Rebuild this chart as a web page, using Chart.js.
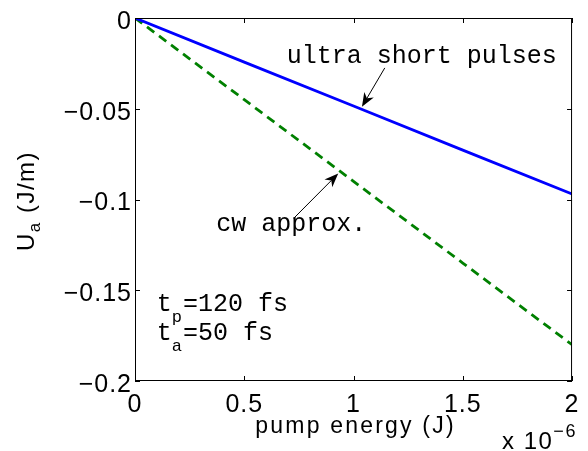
<!DOCTYPE html>
<html>
<head>
<meta charset="utf-8">
<script src="https://cdn.jsdelivr.net/npm/chart.js@4"></script>
<style>
  html, body { margin: 0; padding: 0; background: #fff; }
  canvas { display: block; }
</style>
</head>
<body>
<canvas id="grafica" width="588" height="451"></canvas>
<script>
// pump energy in units of 1e-6 J
const energias = [0, 0.5, 1, 1.5, 2];
const pulsosCortos = [0, -0.0243, -0.0485, -0.0728, -0.097];
const aproxCw = [0, -0.045, -0.09, -0.135, -0.18];
const ticksX = [0, 0.5, 1, 1.5, 2];
const ticksY = [0, -0.05, -0.1, -0.15, -0.2];

const SANS = '"Liberation Sans", Arial, sans-serif';
const MONO = '"Liberation Mono", "Courier New", monospace';

const menos = v => (v < 0 ? '\u2212' + String(-v) : String(v));

// annotation anchors in data units
const notas = {
    pulsos: { x: 0.694, y: -0.0247, cola: [1.143, -0.0275], punta: [1.0385, -0.0489] },
    cw: { x: 0.372, y: -0.1176, cola: [0.726, -0.1104], punta: [0.930, -0.0857] },
    tiempos: { x: 0.1, y1: -0.1615, y2: -0.1775 }
};

function flecha(ctx, x1, y1, x2, y2) {
    const ang = Math.atan2(y2 - y1, x2 - x1);
    const largo = 14, ancho = 5.5;
    const c = Math.cos(ang), s = Math.sin(ang);
    ctx.beginPath();
    ctx.moveTo(x1, y1);
    ctx.lineTo(x2 - c * largo * 0.7, y2 - s * largo * 0.7);
    ctx.strokeStyle = '#000';
    ctx.lineWidth = 1;
    ctx.stroke();
    ctx.beginPath();
    ctx.moveTo(x2, y2);
    ctx.lineTo(x2 - c * largo + s * ancho, y2 - s * largo - c * ancho);
    ctx.lineTo(x2 - c * largo * 0.7, y2 - s * largo * 0.7);
    ctx.lineTo(x2 - c * largo - s * ancho, y2 - s * largo + c * ancho);
    ctx.closePath();
    ctx.fillStyle = '#000';
    ctx.fill();
}

const marco = {
    id: 'marco',
    beforeDraw(chart) {
        chart.ctx.letterSpacing = '1px';
    },
    afterDraw(chart) {
        const { ctx, chartArea: a, scales: { x, y } } = chart;
        ctx.save();
        // box
        ctx.strokeStyle = '#000';
        ctx.lineWidth = 1;
        ctx.strokeRect(a.left + 0.5, a.top + 0.5, a.right - a.left - 1, a.bottom - a.top - 1);
        // inward ticks on all sides
        ctx.beginPath();
        ticksX.forEach(v => {
            const px = Math.round(x.getPixelForValue(v)) + 0.5;
            ctx.moveTo(px, a.bottom); ctx.lineTo(px, a.bottom - 5);
            ctx.moveTo(px, a.top); ctx.lineTo(px, a.top + 5);
        });
        ticksY.forEach(v => {
            const py = Math.round(y.getPixelForValue(v)) + 0.5;
            ctx.moveTo(a.left, py); ctx.lineTo(a.left + 5, py);
            ctx.moveTo(a.right, py); ctx.lineTo(a.right - 5, py);
        });
        ctx.stroke();

        ctx.fillStyle = '#000';
        ctx.letterSpacing = '1.5px';
        // y title: U_a (J/m)
        ctx.save();
        ctx.translate(34, 201);
        ctx.rotate(-Math.PI / 2);
        ctx.textBaseline = 'alphabetic';
        ctx.font = '24px ' + SANS;
        const wU = ctx.measureText('U').width;
        const resto = ' (J/m)';
        const wR = ctx.measureText(resto).width;
        ctx.font = '17px ' + SANS;
        const wA = ctx.measureText('a').width;
        const total = wU + wA + wR;
        const cx = -total / 2;
        ctx.font = '24px ' + SANS;
        ctx.fillText('U', cx, 0);
        ctx.font = '17px ' + SANS;
        ctx.fillText('a', cx + wU, 6);
        ctx.font = '24px ' + SANS;
        ctx.fillText(resto, cx + wU + wA, 0);
        ctx.restore();

        // x title
        ctx.font = '23px ' + SANS;
        ctx.letterSpacing = '2.2px';
        ctx.textAlign = 'left';
        ctx.textBaseline = 'alphabetic';
        const tituloX = 'pump energy (J)';
        const wT = ctx.measureText(tituloX).width;
        ctx.fillText(tituloX, (a.left + a.right) / 2 - wT / 2 + 2, 433);
        // exponent
        ctx.font = '24px ' + SANS;
        ctx.letterSpacing = '1.5px';
        ctx.fillText('x 10', 502, 449);
        const w10 = ctx.measureText('x 10').width;
        ctx.font = '18px ' + SANS;
        ctx.fillText('\u22126', 502 + w10, 437);

        // annotations
        ctx.letterSpacing = '0px';
        ctx.font = '25px ' + MONO;
        ctx.fillText('ultra short pulses', x.getPixelForValue(notas.pulsos.x), y.getPixelForValue(notas.pulsos.y));
        ctx.fillText('cw approx.', x.getPixelForValue(notas.cw.x), y.getPixelForValue(notas.cw.y));
        flecha(ctx, x.getPixelForValue(notas.pulsos.cola[0]), y.getPixelForValue(notas.pulsos.cola[1]),
            x.getPixelForValue(notas.pulsos.punta[0]), y.getPixelForValue(notas.pulsos.punta[1]));
        flecha(ctx, x.getPixelForValue(notas.cw.cola[0]), y.getPixelForValue(notas.cw.cola[1]),
            x.getPixelForValue(notas.cw.punta[0]), y.getPixelForValue(notas.cw.punta[1]));

        const tx = x.getPixelForValue(notas.tiempos.x);
        [[notas.tiempos.y1, 'p', '=120 fs'], [notas.tiempos.y2, 'a', '=50 fs']].forEach(([vy, sub, txt]) => {
            const py = y.getPixelForValue(vy);
            ctx.font = '25px ' + MONO;
            ctx.fillText('t', tx, py);
            const wt = ctx.measureText('t').width;
            ctx.font = '17px ' + MONO;
            ctx.fillText(sub, tx + wt, py + 11);
            const ws = ctx.measureText(sub).width;
            ctx.font = '25px ' + MONO;
            ctx.fillText(txt, tx + wt + ws + 1, py);
        });
        ctx.restore();
    }
};

const ctx = document.getElementById('grafica').getContext('2d');
const grafica = new Chart(ctx, {
    type: 'line',
    data: {
        datasets: [{
            label: 'ultra short pulses',
            data: energias.map((e, i) => ({ x: e, y: pulsosCortos[i] })),
            borderColor: '#0000ff',
            borderWidth: 2.8,
            pointRadius: 0,
            tension: 0
        }, {
            label: 'cw approx.',
            data: energias.map((e, i) => ({ x: e, y: aproxCw[i] })),
            borderColor: '#008000',
            borderWidth: 2.8,
            borderDash: [9, 6],
            pointRadius: 0,
            tension: 0
        }]
    },
    options: {
        responsive: false,
        animation: false,
        devicePixelRatio: 1,
        layout: { padding: { top: 17, right: 12, left: 0, bottom: 0 } },
        plugins: {
            legend: { display: false },
            tooltip: { enabled: false }
        },
        scales: {
            x: {
                type: 'linear',
                min: 0,
                max: 2,
                afterBuildTicks: s => { s.ticks = ticksX.map(v => ({ value: v })); },
                afterFit: s => { s.height = 70; },
                grid: { display: false, drawTicks: false },
                border: { display: false },
                ticks: {
                    color: '#000',
                    padding: 9,
                    maxRotation: 0,
                    font: { family: SANS, size: 25 },
                    callback: v => menos(v)
                }
            },
            y: {
                type: 'linear',
                min: -0.2,
                max: 0,
                afterBuildTicks: s => { s.ticks = ticksY.map(v => ({ value: v })); },
                afterFit: s => { s.width = 135; },
                grid: { display: false, drawTicks: false },
                border: { display: false },
                ticks: {
                    color: '#000',
                    padding: 3,
                    labelOffset: 4,
                    font: { family: SANS, size: 25 },
                    callback: v => menos(v)
                }
            }
        }
    },
    plugins: [marco]
});
</script>
</body>
</html>
